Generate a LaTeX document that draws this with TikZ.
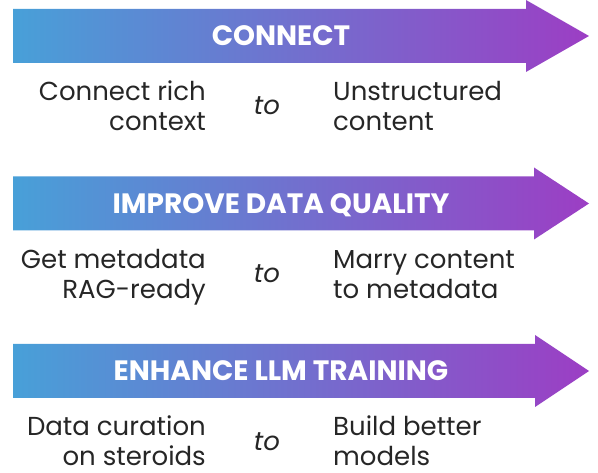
\documentclass[tikz,border=0pt]{standalone}
\usepackage{fontspec}
\setmainfont{Poppins}
\usepackage{xcolor}
\definecolor{arrowblue}{RGB}{72,160,216}
\definecolor{arrowpurple}{RGB}{156,62,196}
\definecolor{textgray}{RGB}{38,38,38}

\begin{document}
\begin{tikzpicture}[x=1pt,y=-1pt,
  banner/.style={left color=arrowblue,right color=arrowpurple},
  title/.style={white,font=\fontsize{28}{30}\selectfont\bfseries,anchor=base,inner sep=0pt},
  side/.style={textgray,font=\fontsize{26}{30}\selectfont,inner sep=0pt},
  joiner/.style={textgray,font=\fontsize{26}{30}\selectfont\itshape,anchor=base,inner sep=0pt}]
\useasboundingbox (0,0) rectangle (598,473);

% connect
\shade[banner] (13,9) -- (526,9) -- (526,0) -- (589,36) -- (526,72) -- (526,63) -- (13,63) -- cycle;
\node[title] (t1) at (281,46) {CONNECT};
\node[side,align=right,anchor=base east] (l1) at (206,131) {Connect rich\\context};
\node[joiner] (j1) at (267,115) {to};
\node[side,align=left,anchor=base west] (r1) at (333,131) {Unstructured\\content};

% data quality
\shade[banner] (13,176.5) -- (534,176.5) -- (534,167.5) -- (589,203.5) -- (534,239.5) -- (534,230.5) -- (13,230.5) -- cycle;
\node[title] (t2) at (281,213.5) {IMPROVE DATA QUALITY};
\node[side,align=right,anchor=base east] (l2) at (206,298.5) {Get metadata\\RAG-ready};
\node[joiner] (j2) at (267,282.5) {to};
\node[side,align=left,anchor=base west] (r2) at (333,298.5) {Marry content\\to metadata};

% llm training
\shade[banner] (13,344) -- (535,344) -- (535,335) -- (589,371) -- (535,407) -- (535,398) -- (13,398) -- cycle;
\node[title] (t3) at (281,381) {ENHANCE LLM TRAINING};
\node[side,align=right,anchor=base east] (l3) at (206,466) {Data curation\\on steroids};
\node[joiner] (j3) at (267,450) {to};
\node[side,align=left,anchor=base west] (r3) at (333,466) {Build better\\models};
\end{tikzpicture}
\end{document}
